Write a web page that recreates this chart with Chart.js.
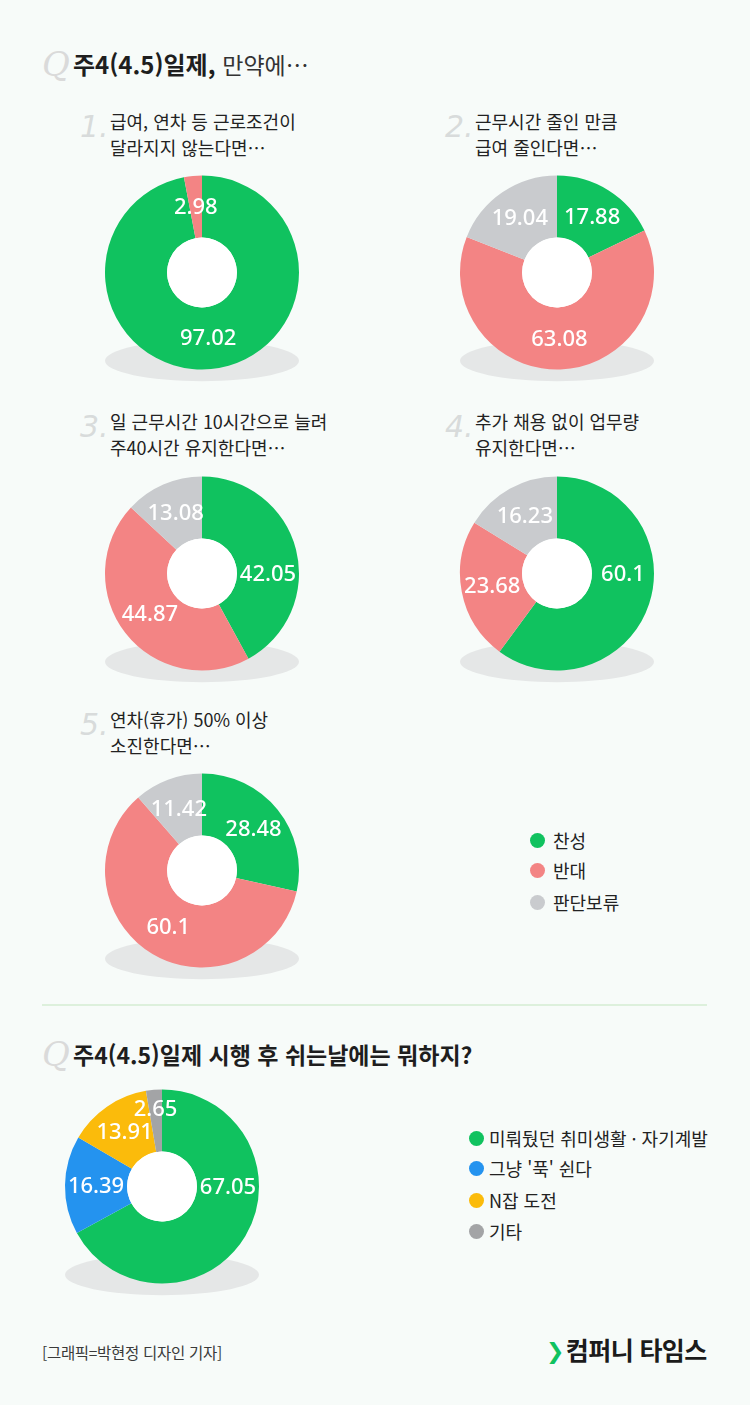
<!DOCTYPE html>
<html lang="ko">
<head>
<meta charset="utf-8">
<script src="https://cdn.jsdelivr.net/npm/chart.js@4"></script>
<style>
  html,body{margin:0;padding:0;}
  body{width:750px;height:1405px;background:#f7fbf9;position:relative;overflow:hidden;font-family:'Noto Sans CJK KR','Noto Sans',sans-serif;color:#222;}
  .abs{position:absolute;white-space:nowrap;}
  .q{font-family:'DejaVu Serif',serif;font-style:italic;color:#dadada;font-size:34px;line-height:36px;}
  .title{font-size:24px;line-height:30px;font-weight:700;color:#1e1e1e;}
  .title span{font-weight:400;color:#333;font-size:23px;}
  .num{font-family:'DejaVu Sans',sans-serif;font-style:italic;font-weight:300;color:#d8dbdb;font-size:30px;line-height:30px;}
  .qtext{font-size:18px;line-height:26px;color:#222;}
  .leg{font-size:18px;line-height:22px;color:#222;}
  .dot{position:absolute;width:15px;height:15px;border-radius:50%;}
  canvas{position:absolute;}
</style>
</head>
<body>
<script>
// ---------- DATA ----------
const opinionLabels = ['찬성', '반대', '판단보류'];
const q1Values = [97.02, 2.98];
const q2Values = [17.88, 63.08, 19.04];
const q3Values = [42.05, 44.87, 13.08];
const q4Values = [60.1, 23.68, 16.23];
const q5Values = [28.48, 60.1, 11.42];
const questionTexts = [
  ['급여, 연차 등 근로조건이', '달라지지 않는다면…'],
  ['근무시간 줄인 만큼', '급여 줄인다면…'],
  ['일 근무시간 10시간으로 늘려', '주40시간 유지한다면…'],
  ['추가 채용 없이 업무량', '유지한다면…'],
  ['연차(휴가) 50% 이상', '소진한다면…']
];
const dayoffLabels = ['미뤄뒀던 취미생활 · 자기계발', "그냥 '푹' 쉰다", 'N잡 도전', '기타'];
const dayoffValues = [67.05, 16.39, 13.91, 2.65];

// ---------- STYLE ----------
const opinionColors = ['#10c25f', '#f38484', '#c9cbce'];
const dayoffColors = ['#10c25f', '#2493ef', '#fbbb0b', '#a3a4a6'];

function el(tag, cls, html, style) {
  const e = document.createElement(tag);
  if (cls) e.className = cls;
  if (html !== undefined) e.innerHTML = html;
  Object.assign(e.style, style || {});
  document.body.appendChild(e);
  return e;
}

// Titles
el('div', 'abs q', 'Q', {left: '42px', top: '46px'});
el('div', 'abs title', '주4(4.5)일제, <span>만약에…</span>', {left: '73px', top: '49px'});
el('div', 'abs q', 'Q', {left: '42px', top: '1036px'});
el('div', 'abs title', '주4(4.5)일제 시행 후 쉬는날에는 뭐하지?', {left: '73px', top: '1039px', fontSize: '23px'});

// separator
el('div', 'abs', '', {left: '42px', top: '1004px', width: '665px', height: '2px', background: '#ddf0dc'});

// Question headers
const headerPos = [[80, 110, 108], [445, 475, 108], [80, 110, 408], [445, 475, 408], [80, 110, 706]];
questionTexts.forEach((lines, i) => {
  const [nx, tx, ty] = headerPos[i];
  el('div', 'abs num', (i + 1) + '.', {left: nx + 'px', top: (ty + 4) + 'px'});
  el('div', 'abs qtext', lines.join('<br>'), {left: tx + 'px', top: ty + 'px'});
});

// Legends
opinionLabels.forEach((l, i) => {
  const y = [840, 870, 902][i];
  el('div', 'dot', '', {left: (537 - 7.5) + 'px', top: (y - 7.5) + 'px', background: opinionColors[i]});
  el('div', 'abs leg', l, {left: '553px', top: (y - 11) + 'px'});
});
dayoffLabels.forEach((l, i) => {
  const y = [1138, 1168, 1200, 1231][i];
  el('div', 'dot', '', {left: (476 - 7.5) + 'px', top: (y - 7.5) + 'px', background: dayoffColors[i]});
  el('div', 'abs leg', l, {left: '489px', top: (y - 11) + 'px'});
});

// Footer
el('div', 'abs', '[그래픽=박현정 디자인 기자]', {left: '42px', top: '1341px', fontSize: '15.5px', lineHeight: '22px', color: '#3a3a3a', letterSpacing: '-0.3px'});
el('div', 'abs', '<span style="color:#10c25f;font-family:DejaVu Sans;font-weight:900;font-size:22px;position:relative;top:-1px;margin-right:2px;">❯</span>컴퍼니 타임스',
   {left: '546px', top: '1333px', fontSize: '25px', lineHeight: '32px', fontWeight: '700', color: '#1b1b1b', letterSpacing: '-0.6px'});

// ---------- Plugins ----------
const donutDecor = {
  id: 'donutDecor',
  beforeDatasetsDraw(chart) {
    const arc = chart.getDatasetMeta(0).data[0];
    if (!arc) return;
    const {x, y, outerRadius} = arc.getProps(['x', 'y', 'outerRadius'], true);
    const ctx = chart.ctx;
    ctx.save();
    ctx.fillStyle = '#e5e7e7';
    ctx.beginPath();
    ctx.ellipse(x, y + outerRadius * 0.91, outerRadius, outerRadius * 0.21, 0, 0, Math.PI * 2);
    ctx.fill();
    ctx.restore();
  },
  afterDatasetsDraw(chart) {
    const meta = chart.getDatasetMeta(0);
    const arc0 = meta.data[0];
    const {x, y, innerRadius, outerRadius} = arc0.getProps(['x', 'y', 'innerRadius', 'outerRadius'], true);
    const ctx = chart.ctx;
    ctx.save();
    ctx.fillStyle = '#ffffff';
    ctx.beginPath();
    ctx.arc(x, y, innerRadius, 0, Math.PI * 2);
    ctx.fill();
    const data = chart.data.datasets[0].data;
    const total = data.reduce((a, b) => a + b, 0);
    ctx.fillStyle = '#ffffff';
    ctx.font = '500 22px "Noto Sans", "Noto Sans CJK KR", sans-serif';
    ctx.textAlign = 'center';
    ctx.textBaseline = 'middle';
    const r = (innerRadius + outerRadius) / 2;
    const boxes = [];
    meta.data.forEach((a, i) => {
      const p = a.getProps(['startAngle', 'endAngle'], true);
      const mid = (p.startAngle + p.endAngle) / 2;
      const frac = data[i] / total;
      let m = Math.atan2(Math.sin(mid), Math.cos(mid));
      if (frac > 0.35 && Math.abs(m) < Math.PI / 4) m = 0;
      const txt = String(data[i]);
      const w = ctx.measureText(txt).width;
      boxes.push({x: x + Math.cos(m) * r, y: y + Math.sin(m) * r, w, m});
    });
    // small slices whose label collides with another are pushed outward
    boxes.forEach((b, i) => {
      if (data[i] / total >= 0.05) return;
      const others = boxes.filter((o, j) => j !== i);
      let rr = r;
      while (rr < outerRadius - 12 && others.some(o => Math.abs(o.x - b.x) < (o.w + b.w) / 2 && Math.abs(o.y - b.y) < 22)) {
        rr += 2;
        b.x = x + Math.cos(b.m) * rr;
        b.y = y + Math.sin(b.m) * rr;
      }
    });
    boxes.forEach((b, i) => ctx.fillText(String(data[i]), b.x, b.y + 1));
    ctx.restore();
  }
};

function makeDonut(cx, cy, labels, values, colors) {
  const c = document.createElement('canvas');
  c.width = 200; c.height = 230;
  c.style.width = '200px'; c.style.height = '230px';
  c.style.left = (cx - 100) + 'px';
  c.style.top = (cy - 101.5) + 'px';
  document.body.appendChild(c);
  new Chart(c, {
    type: 'doughnut',
    data: {labels, datasets: [{data: values, backgroundColor: colors, borderWidth: 0}]},
    options: {
      responsive: false, animation: false, cutout: '36%',
      layout: {padding: {top: 3, left: 3, right: 3, bottom: 30}},
      plugins: {legend: {display: false}, tooltip: {enabled: false}}
    },
    plugins: [donutDecor]
  });
}

makeDonut(202, 272, opinionLabels.slice(0, 2), q1Values, opinionColors);
makeDonut(557, 272, opinionLabels, q2Values, opinionColors);
makeDonut(202, 573, opinionLabels, q3Values, opinionColors);
makeDonut(557, 573, opinionLabels, q4Values, opinionColors);
makeDonut(202, 870, opinionLabels, q5Values, opinionColors);
makeDonut(162, 1186, dayoffLabels, dayoffValues, dayoffColors);
</script>
</body>
</html>
